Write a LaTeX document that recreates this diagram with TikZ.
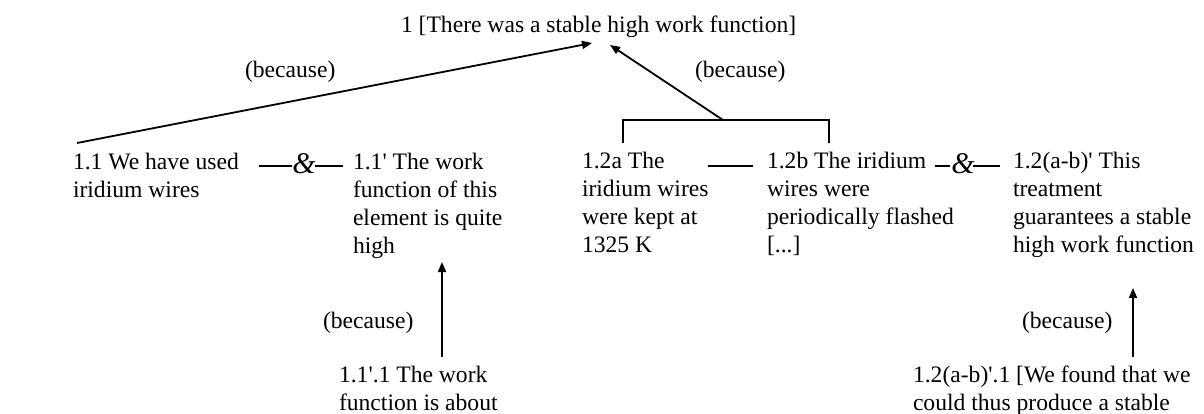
\documentclass[tikz,border=0pt]{standalone}
\usepackage{fontspec}
\setmainfont{Liberation Serif}[Ligatures=TeXOff]
\usetikzlibrary{arrows.meta}
\newcommand\txtlines[1]{\begin{tabular}[t]{@{}l@{}}#1\end{tabular}}
\begin{document}
\begin{tikzpicture}[x=1pt,y=-1pt,
  every node/.style={inner sep=0pt,outer sep=0pt,font=\fontsize{23.6pt}{28pt}\selectfont},
  txt/.style={anchor=base west},
  ampsign/.style={anchor=base,font=\fontsize{30pt}{32pt}\selectfont\itshape},
  because/.style={-{Triangle[length=10pt,width=8pt]},line width=1.8pt},
  joinline/.style={line width=2.2pt},
  bracketline/.style={line width=1.8pt}]
\useasboundingbox (0,0) rectangle (1204,413);

% statements
\node[txt] (t1) at (401,32) {1 [There was a stable high work function]};
\node[txt] (n11) at (73,169) {\txtlines{1.1 We have used\\iridium wires}};
\node[txt] (n11p) at (353,169) {\txtlines{1.1' The work\\function of this\\element is quite\\high}};
\node[txt] (n12a) at (582,168) {\txtlines{1.2a The\\iridium wires\\were kept at\\1325 K}};
\node[txt] (n12b) at (767,168) {\txtlines{1.2b The iridium\\wires were\\periodically flashed\\\relax[...]}};
\node[txt] (n12ab) at (1013,168) {\txtlines{1.2(a-b)' This\\treatment\\guarantees a stable\\high work function}};
\node[txt] (n111) at (339,382) {\txtlines{1.1'.1 The work\\function is about}};
\node[txt] (n12ab1) at (913,382) {\txtlines{1.2(a-b)'.1 [We found that we\\could thus produce a stable}};

% labels
\node[txt] (b1) at (245,77) {(because)};
\node[txt] (b2) at (695,77) {(because)};
\node[txt] (b3) at (323,328) {(because)};
\node[txt] (b4) at (1022,328) {(because)};

% ampersands
\node[ampsign] (amp1) at (304,173) {\&};
\node[ampsign] (amp2) at (963,173) {\&};

% connector end points
\coordinate (s11) at (77,143);
\coordinate (e11) at (592,43);
\coordinate (br) at (723,120);
\coordinate (e12) at (610,45);
\coordinate (brl) at (623,143);
\coordinate (brr) at (829,143);
\coordinate (s111) at (442,357);
\coordinate (e111) at (442,262);
\coordinate (s12ab1) at (1133,357);
\coordinate (e12ab1) at (1133,288);
\coordinate (j1a) at (259,166);
\coordinate (j1b) at (292,166);
\coordinate (j1c) at (315,166);
\coordinate (j1d) at (343,166);
\coordinate (j2a) at (708,166);
\coordinate (j2b) at (753,166);
\coordinate (j3a) at (935,166);
\coordinate (j3b) at (950,166);
\coordinate (j3c) at (973,166);
\coordinate (j3d) at (1000,166);

% support arrows
\draw[because] (s11) -- (e11);
\draw[because] (br) -- (e12);
\draw[because] (s111) -- (e111);
\draw[because] (s12ab1) -- (e12ab1);

% bracket joining 1.2a and 1.2b
\draw[bracketline] (brl) -- (brl |- br) -- (brr |- br) -- (brr);

% joining lines
\draw[joinline] (j1a) -- (j1b);
\draw[joinline] (j1c) -- (j1d);
\draw[joinline] (j2a) -- (j2b);
\draw[joinline] (j3a) -- (j3b);
\draw[joinline] (j3c) -- (j3d);
\end{tikzpicture}
\end{document}
